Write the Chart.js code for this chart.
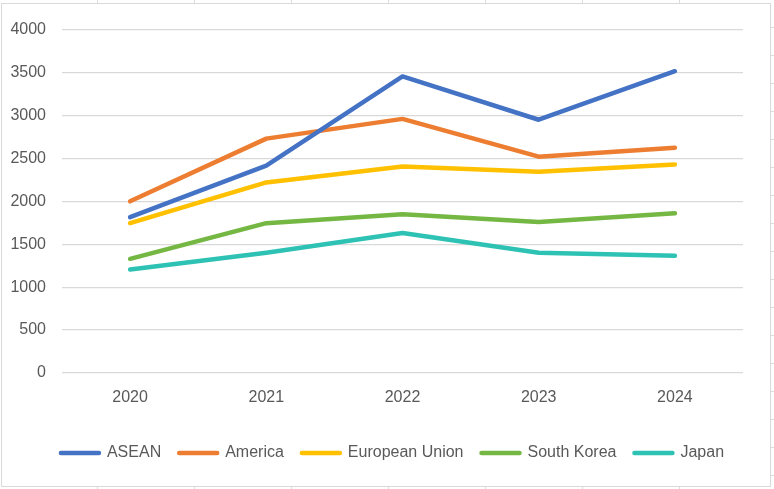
<!DOCTYPE html>
<html>
<head>
<meta charset="utf-8">
<script src="https://cdn.jsdelivr.net/npm/chart.js@4.4.1/dist/chart.umd.min.js"></script>
<style>
  html, body { margin: 0; padding: 0; }
  body {
    width: 774px; height: 489px; position: relative; overflow: hidden;
    background:
      repeating-linear-gradient(to right, transparent 0 96px, #dcdcdc 96px 97px) 1px 0 / 100% 4px no-repeat,
      repeating-linear-gradient(to right, transparent 0 96px, #dcdcdc 96px 97px) 1px 486px / 100% 3px no-repeat,
      repeating-linear-gradient(to bottom, transparent 0 27px, #dcdcdc 27px 28px) 771px 0 / 3px 100% no-repeat,
      #fff;
  }
  #box {
    position: absolute; left: 1px; top: 3px; width: 768px; height: 482px;
    border: 1px solid #d9d9d9; background: #fff;
  }
</style>
</head>
<body>
<div id="box"><canvas id="chart" width="768" height="482"></canvas></div>
<script>
const years = ['2020', '2021', '2022', '2023', '2024'];
const asean = [1815, 2415, 3455, 2950, 3515];
const america = [2000, 2730, 2960, 2520, 2625];
const eu = [1745, 2220, 2405, 2345, 2430];
const southKorea = [1330, 1745, 1850, 1760, 1860];
const japan = [1205, 1400, 1630, 1400, 1365];
const yTicks = [0, 500, 1000, 1500, 2000, 2500, 3000, 3500, 4000];

const textColor = '#595959';
const font = { family: 'Liberation Sans, Arial, sans-serif', size: 16 };

function line(label, data, color) {
  return {
    label, data,
    borderColor: color, backgroundColor: color,
    borderWidth: 4.5, pointRadius: 0, pointHoverRadius: 0,
    borderCapStyle: 'round', borderJoinStyle: 'round', tension: 0
  };
}

// legend sits a bit right of centre in the original
const shiftLegend = {
  id: 'shiftLegend',
  afterLayout(chart) {
    chart.legend.left += 20;
    chart.legend.right += 20;
  }
};

new Chart(document.getElementById('chart'), {
  type: 'line',
  data: {
    labels: years,
    datasets: [
      line('ASEAN', asean, '#4472C4'),
      line('America', america, '#ED7D31'),
      line('European Union', eu, '#FFC000'),
      line('South Korea', southKorea, '#74B743'),
      line('Japan', japan, '#2EC2B4')
    ]
  },
  plugins: [shiftLegend],
  options: {
    responsive: false,
    animation: false,
    layout: { padding: { top: 21, right: 27, left: 0, bottom: 15 } },
    plugins: {
      tooltip: { enabled: false },
      legend: {
        position: 'bottom',
        labels: {
          color: textColor, font,
          boxWidth: 38, boxHeight: 0.1, padding: 18
        }
      }
    },
    scales: {
      x: {
        offset: true,
        grid: { display: false, drawTicks: false },
        border: { display: false },
        ticks: { color: textColor, font, padding: 15, maxRotation: 0 },
        afterFit: s => { s.height = 54; }
      },
      y: {
        min: 0, max: 4000,
        afterBuildTicks: s => { s.ticks = yTicks.map(v => ({ value: v })); },
        grid: { color: '#d9d9d9', lineWidth: 1.3, drawTicks: false },
        border: { display: false },
        ticks: { color: textColor, font, padding: 16, callback: v => String(v) },
        afterFit: s => { s.width = 60; }
      }
    }
  }
});
</script>
</body>
</html>
